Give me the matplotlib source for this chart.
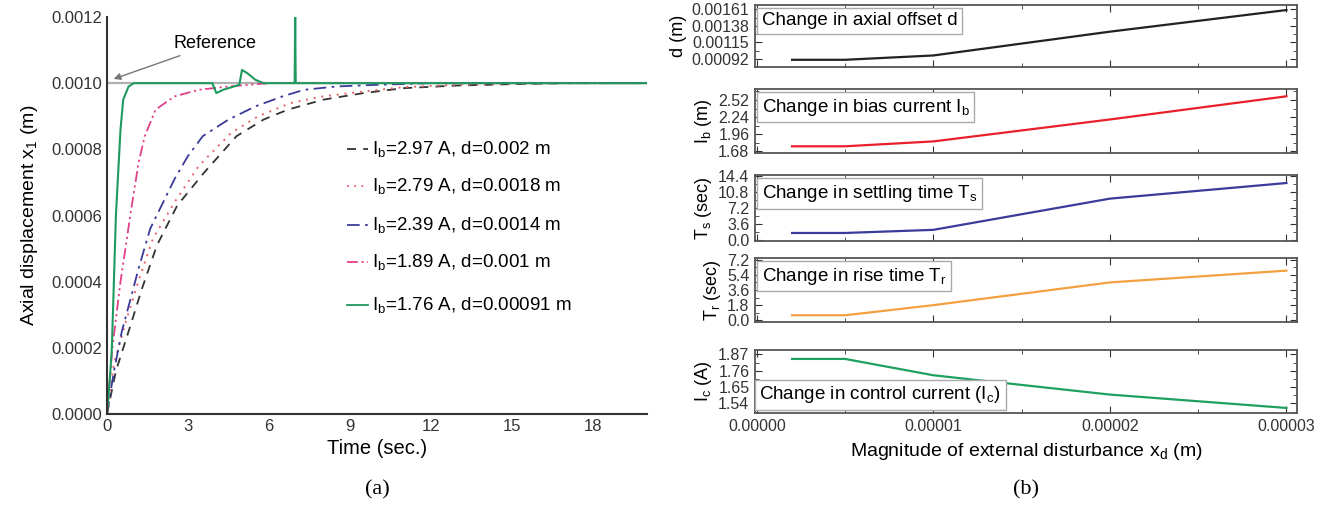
import numpy as np
import matplotlib.pyplot as plt
from matplotlib.ticker import FixedLocator, AutoMinorLocator, FormatStrFormatter, MultipleLocator

plt.rcParams['font.family'] = ['Liberation Sans', 'DejaVu Sans']
plt.rcParams['mathtext.default'] = 'regular'

# (a) time responses (x1 in mm)
t_297 = [0, 0.33, 0.84, 1.3, 1.85, 2.6, 3.6, 4.8, 5.8, 6.7, 8, 9.5, 11, 13, 15, 17, 20]
x_297 = [0, 0.13, 0.26, 0.38, 0.51, 0.63, 0.73, 0.84, 0.89, 0.92, 0.95, 0.97, 0.985, 0.993, 0.997, 1.0, 1.0]

t_279 = [0, 0.25, 0.7, 1.2, 1.7, 2.5, 3.4, 4.6, 5.6, 6.8, 8, 9.5, 11, 13, 15, 17, 20]
x_279 = [0, 0.15, 0.28, 0.41, 0.53, 0.64, 0.75, 0.85, 0.90, 0.94, 0.96, 0.975, 0.988, 0.995, 0.998, 1.0, 1.0]

t_239 = [0, 0.26, 0.55, 0.88, 1.17, 1.6, 1.9, 2.5, 3.0, 3.55, 4.5, 5.5, 6.5, 7.3, 8.5, 10, 12, 14, 20]
x_239 = [0, 0.13, 0.25, 0.35, 0.44, 0.56, 0.61, 0.71, 0.78, 0.84, 0.89, 0.93, 0.96, 0.98, 0.99, 0.995, 1.0, 1.0, 1.0]

t_189 = [0, 0.2, 0.5, 0.7, 0.88, 1.17, 1.4, 1.8, 2.5, 3.4, 4.5, 6, 20]
x_189 = [0, 0.2, 0.4, 0.51, 0.61, 0.76, 0.84, 0.92, 0.96, 0.98, 0.99, 1.0, 1.0]

t_176 = [0, 0.1, 0.18, 0.33, 0.5, 0.6, 0.8, 1.0, 1.3, 3.9, 4.05, 4.3, 4.7, 4.9, 5.0, 5.2, 5.5, 5.8,
         6.95, 6.97, 6.99, 20]
x_176 = [0, 0.1, 0.2, 0.6, 0.86, 0.95, 0.99, 1.0, 1.0, 1.0, 0.97, 0.98, 0.99, 0.995, 1.04, 1.03, 1.01, 1.0,
         1.0, 1.2, 1.0, 1.0]

labels_a = ["I$_b$=2.97 A, d=0.002 m", "I$_b$=2.79 A, d=0.0018 m", "I$_b$=2.39 A, d=0.0014 m",
            "I$_b$=1.89 A, d=0.001 m", "I$_b$=1.76 A, d=0.00091 m"]

# (b) sensitivity to disturbance
xd = [0.2e-5, 0.5e-5, 1e-5, 2e-5, 3e-5]
d_off = [0.00091, 0.00091, 0.00097, 0.00130, 0.00160]
i_bias = [1.76, 1.76, 1.84, 2.20, 2.58]
t_settle = [1.6, 1.6, 2.3, 9.3, 12.8]
t_rise = [0.6, 0.6, 1.8, 4.5, 5.9]
i_ctrl = [1.84, 1.84, 1.73, 1.60, 1.51]

W, H = 1319, 508
fig = plt.figure(figsize=(W / 100, H / 100), dpi=100)


def box(l, t, r, b):
    return [l / W, 1 - b / H, (r - l) / W, (b - t) / H]


# ---- left panel
ax = fig.add_axes(box(107, 17, 647, 414))
ax.plot([0, 20], [0.001, 0.001], color='#b0b0b0', lw=1.6)
ax.plot(t_297, np.array(x_297) * 1e-3, color='#333333', ls=(0, (5, 4)), lw=1.3)
ax.plot(t_279, np.array(x_279) * 1e-3, color='#e8606a', ls=(0, (1, 3)), lw=1.4)
ax.plot(t_239, np.array(x_239) * 1e-3, color='#3a3a9a', ls=(0, (7, 3, 1.5, 3)), lw=1.3)
ax.plot(t_189, np.array(x_189) * 1e-3, color='#e0408a', ls=(0, (6, 2, 1.2, 2, 1.2, 2)), lw=1.3)
ax.plot(t_176, np.array(x_176) * 1e-3, color='#1f9a5e', lw=1.5)

ax.set_xlim(0, 20)
ax.set_ylim(0, 0.0012)
ax.set_xticks([0, 3, 6, 9, 12, 15, 18])
ax.set_yticks([0, 0.0002, 0.0004, 0.0006, 0.0008, 0.001, 0.0012])
ax.yaxis.set_major_formatter(FormatStrFormatter('%.4f'))
ax.tick_params(length=0, labelsize=12, colors='#333333')
for s in ['top', 'right']:
    ax.spines[s].set_visible(False)
for s in ['left', 'bottom']:
    ax.spines[s].set_linewidth(1.5)
    ax.spines[s].set_color('#333333')
ax.set_xlabel("Time (sec.)", fontsize=14.5, labelpad=4)
ax.set_ylabel("Axial displacement x$_1$ (m)", fontsize=14, labelpad=8)

ax.annotate("Reference", xy=(0.15, 0.00101), xytext=(2.45, 0.00112), fontsize=13, va='center',
            arrowprops=dict(arrowstyle='-|>', color='#777777', lw=1, mutation_scale=10))

# hand placed legend rows
leg_y = [0.0008, 0.00069, 0.00057, 0.00046, 0.00033]
leg_sty = [('#333333', (0, (5, 4))), ('#e8606a', (0, (1, 3))), ('#3a3a9a', (0, (7, 3, 1.5, 3))),
           ('#e0408a', (0, (6, 2, 1.2, 2, 1.2, 2))), ('#1f9a5e', '-')]
for yv, (c, ls), lab in zip(leg_y, leg_sty, labels_a):
    ax.plot([8.9, 9.65], [yv, yv], color=c, ls=ls, lw=1.3)
    ax.text(9.8, yv, lab, fontsize=13.5, va='center')

fig.text(0.5 * (107 + 647) / W, 1 - 490 / H, "(a)", family='Liberation Serif', fontsize=16,
         ha='center', va='center')

# ---- right panels
tops = [5, 89, 175, 258, 350]
bots = [67, 153, 241, 322, 413]
ys = [d_off, i_bias, t_settle, t_rise, i_ctrl]
cols = ['#222222', '#e8202a', '#3b3b9b', '#f5a040', '#1fa060']
yticks = [[0.00092, 0.00115, 0.00138, 0.00161], [1.68, 1.96, 2.24, 2.52],
          [0.0, 3.6, 7.2, 10.8, 14.4], [0.0, 1.8, 3.6, 5.4, 7.2], [1.54, 1.65, 1.76, 1.87]]
ylims = [(0.00081, 0.00167), (1.65, 2.70), (-0.2, 14.6), (-0.2, 7.4), (1.476, 1.90)]
fmts = ['%.5f', '%.2f', '%.1f', '%.1f', '%.2f']
ylabs = ["d (m)", "I$_b$ (m)", "T$_s$ (sec)", "T$_r$ (sec)", "I$_c$ (A)"]
notes = ["Change in axial offset d", "Change in bias current I$_b$", "Change in settling time T$_s$",
         "Change in rise time T$_r$", "Change in control current (I$_c$)"]

for i in range(5):
    a = fig.add_axes(box(755, tops[i], 1297, bots[i]))
    a.plot(xd, ys[i], color=cols[i], lw=1.6)
    a.set_xlim(-0.0000001, 0.0000306)
    a.set_ylim(*ylims[i])
    a.yaxis.set_major_locator(FixedLocator(yticks[i]))
    a.yaxis.set_major_formatter(FormatStrFormatter(fmts[i]))
    a.yaxis.set_minor_locator(AutoMinorLocator(2))
    a.xaxis.set_major_locator(MultipleLocator(1e-5))
    a.xaxis.set_minor_locator(MultipleLocator(0.5e-5))
    a.xaxis.set_major_formatter(FormatStrFormatter('%.5f'))
    a.tick_params(which='both', direction='in', top=True, right=True, labelsize=11.5,
                  colors='#333333', pad=4)
    a.tick_params(which='major', length=5)
    a.tick_params(which='minor', length=3)
    for s in a.spines.values():
        s.set_linewidth(1.3)
        s.set_color('#555555')
    a.set_ylabel(ylabs[i], fontsize=13, labelpad=3)
    if i < 4:
        a.tick_params(labelbottom=False)
        a.text(0.012, 0.88, notes[i], transform=a.transAxes, fontsize=13.5, va='top',
               bbox=dict(boxstyle='square,pad=0.25', fc='white', ec='#aaaaaa'))
    else:
        a.text(0.008, 0.12, notes[i], transform=a.transAxes, fontsize=13.5, va='bottom',
               bbox=dict(boxstyle='square,pad=0.25', fc='white', ec='#aaaaaa'))
        a.set_xlabel("Magnitude of external disturbance x$_d$ (m)", fontsize=14, labelpad=5)

fig.text(0.5 * (755 + 1297) / W, 1 - 490 / H, "(b)", family='Liberation Serif', fontsize=16,
         ha='center', va='center')

fig.savefig("out.png", dpi=100)
